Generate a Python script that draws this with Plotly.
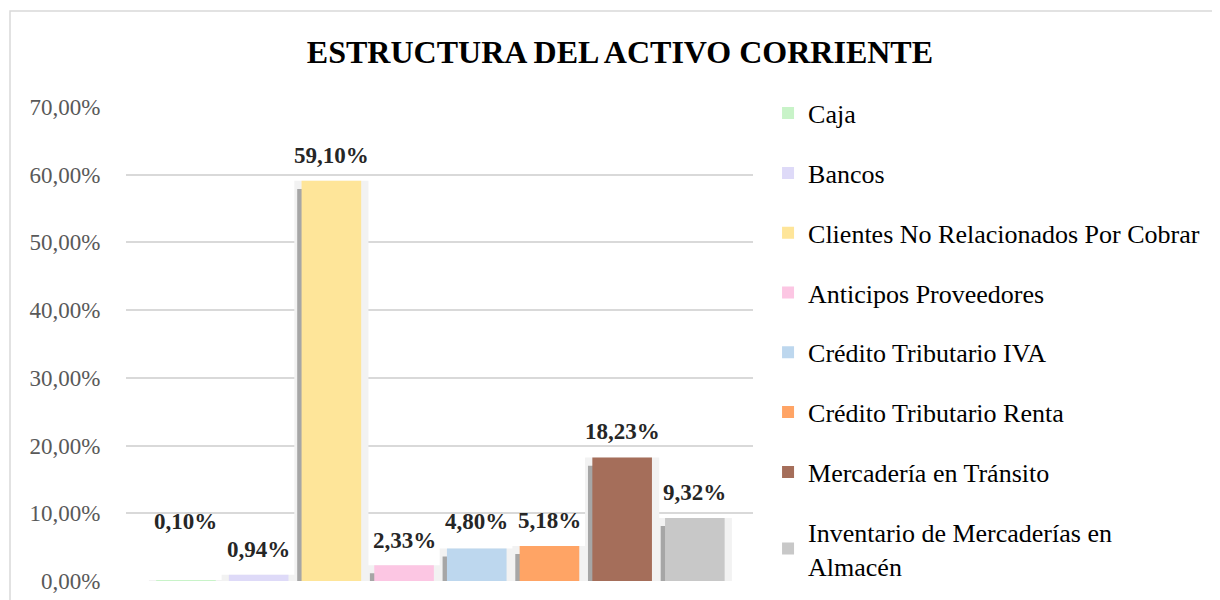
import plotly.graph_objects as go

categories = ["Caja", "Bancos", "Clientes No Relacionados Por Cobrar", "Anticipos Proveedores",
              "Crédito Tributario IVA", "Crédito Tributario Renta", "Mercadería en Tránsito",
              "Inventario de Mercaderías en Almacén"]
legend_names = ["Caja", "Bancos", "Clientes No Relacionados Por Cobrar", "Anticipos Proveedores",
                "Crédito Tributario IVA", "Crédito Tributario Renta", "Mercadería en Tránsito",
                "Inventario de Mercaderías en<br>Almacén"]
values = [0.10, 0.94, 59.10, 2.33, 4.80, 5.18, 18.23, 9.32]
colors = ["#C8F3C8", "#DEDAF8", "#FEE599", "#FCC6E3", "#BDD7EE", "#FFA465", "#A56E5A", "#C8C8C8"]
y_ticks = [0, 10, 20, 30, 40, 50, 60, 70]
y_tick_text = [f"{t:.2f}".replace(".", ",") + "%" for t in y_ticks]

# style: label lift above bar top (px)
label_lift = [59, 25, 25, 25, 27, 25, 26, 25]

SERIF = "Liberation Serif, Times New Roman, serif"
W = 0.82

fig = go.Figure()
# halo
for c, v in zip(categories, values):
    fig.add_trace(go.Bar(x=[c], y=[v], width=W + 0.2, offset=-(W + 0.2) / 2,
                         marker=dict(color="#F2F2F2", line=dict(width=0)),
                         showlegend=False, hoverinfo="skip", legendgroup="zz"))
# shadow
for c, v in zip(categories, values):
    fig.add_trace(go.Bar(x=[c], y=[v], base=-1.2, width=W, offset=-W / 2 - 0.06,
                         marker=dict(color="#A6A6A6", line=dict(width=0)),
                         showlegend=False, hoverinfo="skip", legendgroup="zz"))
# main bars
for i, (c, n, v, col) in enumerate(zip(categories, legend_names, values, colors)):
    fig.add_trace(go.Bar(x=[c], y=[v], name=n, width=W, offset=-W / 2,
                         marker=dict(color=col, line=dict(width=0)),
                         legendgroup=f"g{i}", showlegend=True))

for c, v, lift in zip(categories, values, label_lift):
    fig.add_annotation(x=c, y=v, text="<b>" + f"{v:.2f}".replace(".", ",") + "%</b>",
                       showarrow=False, yanchor="middle", yshift=lift,
                       font=dict(family=SERIF, size=23, color="#262626"))

fig.add_shape(type="rect", xref="paper", yref="paper", x0=-0.185, x1=1.8, y0=-0.2, y1=1.2025,
              line=dict(color="#D9D9D9", width=1.5), layer="below")

fig.update_layout(
    width=1220, height=600,
    margin=dict(l=118, r=475, t=99, b=27),
    paper_bgcolor="white", plot_bgcolor="white",
    barmode="overlay",
    separators=",.",
    title=dict(text="<b>ESTRUCTURA DEL ACTIVO CORRIENTE</b>", x=0.5016, xanchor="center",
               y=1 - 44 / 600, yanchor="middle", yref="container",
               font=dict(family=SERIF, size=32, color="black")),
    xaxis=dict(type="category", categoryorder="array", categoryarray=categories,
               range=[-0.825, 7.8], showticklabels=False, showgrid=False,
               zeroline=False, showline=False, ticks=""),
    yaxis=dict(range=[0, 70], tickvals=y_ticks, ticktext=y_tick_text,
               showgrid=True, gridcolor="#D9D9D9", gridwidth=1.5, zeroline=False,
               showline=False, ticks="outside", ticklen=20, tickcolor="rgba(0,0,0,0)",
               tickfont=dict(family=SERIF, size=23, color="#595959")),
    legend=dict(x=1.024, y=1.0365, xanchor="left", yanchor="top",
                font=dict(family=SERIF, size=26, color="black"),
                tracegroupgap=23, itemwidth=30, bgcolor="rgba(0,0,0,0)",
                traceorder="grouped", maxheight=1000),
    showlegend=True,
)

fig.write_html("out.html")
